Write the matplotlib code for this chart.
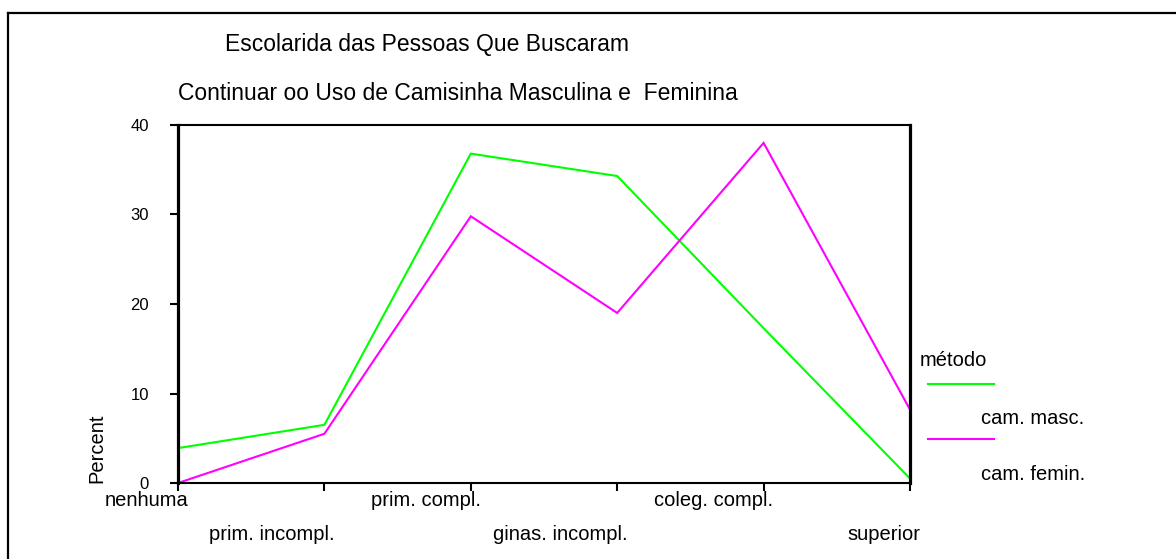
import matplotlib
matplotlib.use("Agg")
import matplotlib.pyplot as plt
from matplotlib.lines import Line2D

plt.rcParams["font.family"] = ["Liberation Sans", "DejaVu Sans"]

# ── Data ──────────────────────────────────────────────────────────────────────
categories = ["nenhuma", "prim. incompl.", "prim. compl.",
              "ginas. incompl.", "coleg. compl.", "superior"]
cam_masc   = [3.9, 6.5, 36.8, 34.3, 17.3, 0.5]
cam_femin  = [0.0, 5.5, 29.8, 19.0, 38.0, 8.2]
series_labels = ["cam. masc.", "cam. femin."]
colors     = ["#00FF00", "#FF00FF"]
y_ticks    = [0, 10, 20, 30, 40]

W, H = 1176, 559
fig = plt.figure(figsize=(W / 100, H / 100), dpi=100)
ax = fig.add_axes([178 / W, 1 - 483 / H, (910 - 178) / W, (483 - 125) / H])

x = list(range(len(categories)))
for vals, c in zip([cam_masc, cam_femin], colors):
    ax.plot(x, vals, color=c, lw=1.5, solid_joinstyle="miter")

ax.set_xlim(0, len(categories) - 1)
ax.set_ylim(0, 40)

# spines
ax.spines["left"].set_linewidth(2.3)
ax.spines["right"].set_linewidth(2.3)
ax.spines["bottom"].set_linewidth(1.5)
ax.spines["top"].set_linewidth(1.5)

ax.set_yticks(y_ticks)
ax.set_yticklabels([str(v) for v in y_ticks], fontsize=12)
ax.tick_params(axis="y", direction="out", length=6, width=1.5, pad=15)
ax.set_xticks(x)
ax.set_xticklabels([])
ax.tick_params(axis="x", direction="out", length=6, width=1.5)

# staggered category labels, sitting left of each tick like the original
for i, lab in enumerate(categories):
    yoff = -17 if i % 2 == 0 else -52
    ax.annotate(lab, xy=(i, 0), xycoords=("data", "axes fraction"),
                xytext=(10, yoff), textcoords="offset pixels",
                ha="right", va="center", fontsize=14.5)

fig.text(97 / W, 1 - 448 / H, "Percent", rotation=90, ha="center",
         va="center", fontsize=14.5)

# titles
fig.text(225 / W, 1 - 45 / H, "Escolarida das Pessoas Que Buscaram",
         ha="left", va="center", fontsize=16.5)
fig.text(178 / W, 1 - 93 / H,
         "Continuar oo Uso de Camisinha Masculina e  Feminina",
         ha="left", va="center", fontsize=16.5)

# legend drawn by hand
fig.text(920 / W, 1 - 361 / H, "método", ha="left", va="center",
         fontsize=14.5)
for k, (lab, c) in enumerate(zip(series_labels, colors)):
    ly = 1 - (384 + 55 * k) / H
    fig.add_artist(Line2D([928 / W, 994 / W], [ly, ly], color=c, lw=1.5,
                          transform=fig.transFigure))
    fig.text(981 / W, 1 - (419 + 55 * k) / H, lab, ha="left", va="center",
             fontsize=14.5)

# outer frame (top & left edges visible)
fig.add_artist(Line2D([8 / W, 8 / W], [0, 1 - 13 / H], color="black", lw=1.6,
                      transform=fig.transFigure))
fig.add_artist(Line2D([8 / W, 1], [1 - 13 / H, 1 - 13 / H], color="black",
                      lw=1.6, transform=fig.transFigure))

fig.savefig("out.png", dpi=100)
